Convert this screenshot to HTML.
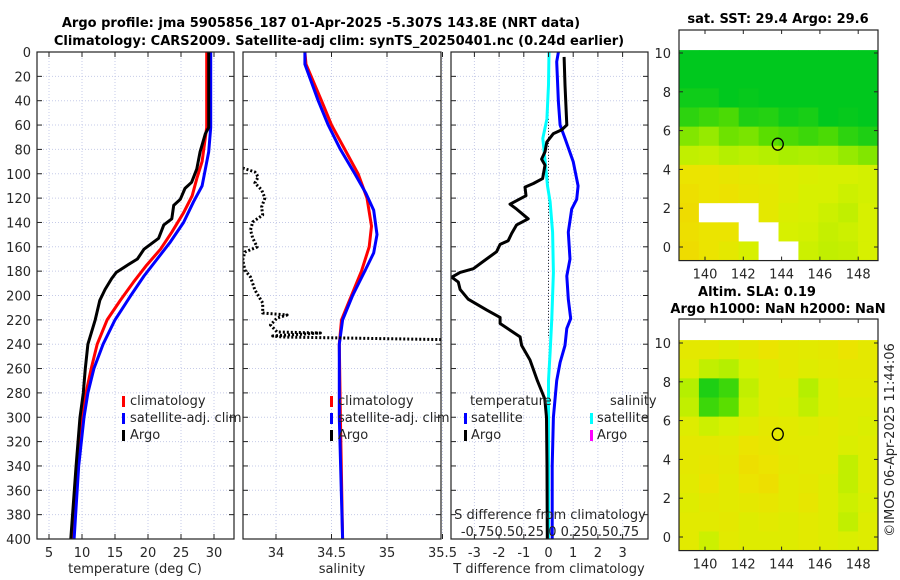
<!DOCTYPE html>
<html><head><meta charset="utf-8">
<style>
html,body{margin:0;padding:0;background:#fff;}
svg{display:block;font-family:"DejaVu Sans","Liberation Sans",sans-serif;}
.t{font-size:13px;fill:#262626;}
.b{font-size:13px;font-weight:bold;fill:#000;}
</style></head>
<body>
<svg id="chart" width="900" height="580" viewBox="0 0 900 580">
<text class="b" x="321" y="27" text-anchor="middle">Argo profile: jma 5905856_187 01-Apr-2025 -5.307S 143.8E (NRT data)</text>
<text class="b" x="339" y="45" text-anchor="middle">Climatology: CARS2009. Satellite-adj clim: synTS_20250401.nc (0.24d earlier)</text>
<text class="b" x="778" y="23" text-anchor="middle">sat. SST: 29.4 Argo: 29.6</text>
<text class="b" x="757" y="296" text-anchor="middle">Altim. SLA: 0.19</text>
<text class="b" x="778" y="313" text-anchor="middle">Argo h1000: NaN h2000: NaN</text>
<text class="t" x="0" y="0" transform="translate(894,440) rotate(-90)" text-anchor="middle">©IMOS 06-Apr-2025 11:44:06</text>
</svg>
<script>
// ---- depth axis ----
const depthTicks = [0,20,40,60,80,100,120,140,160,180,200,220,240,260,280,300,320,340,360,380,400];
// ---- temperature panel ----
const tempTicks = [5,10,15,20,25,30];
const climDepth = [0,62,90,104,118,132,148,162,175,189,204,220,240,260,280,300,340,400];
const climTemp  = [28.9,28.9,28.2,27.4,26.7,25.4,23.6,21.9,19.8,17.8,15.8,13.8,12.3,11.4,10.6,10.0,9.4,8.6];
const satDepth  = [0,62,82,96,110,123,140,156,170,184,200,220,240,260,280,300,340,400];
const satTemp   = [29.5,29.5,29.2,28.7,28.2,26.9,25.4,23.4,21.4,19.4,17.4,15.0,13.2,11.8,10.9,10.3,9.5,8.8];
const argoDepth = [0,62,67,82,96,107,112,121,126,137,142,153,162,170,175,181,186,195,204,220,240,260,280,300,340,400];
const argoTemp  = [29.2,29.2,28.7,27.9,27.4,26.6,25.6,24.9,23.9,23.6,22.4,21.6,19.4,18.4,16.9,15.2,14.5,13.5,12.7,12.0,10.9,10.5,10.2,9.7,9.1,8.3];
// ---- salinity panel ----
const salTicks = [34,34.5,35,35.5];
const salTickLabels = ["34","34.5","35","35.5"];
const climSalDepth = [0,10,40,60,80,100,120,143,160,180,200,220,240,300,400];
const climSal      = [34.26,34.27,34.41,34.50,34.62,34.74,34.82,34.86,34.84,34.77,34.68,34.59,34.57,34.58,34.60];
const satSalDepth  = [0,10,40,60,80,100,116,130,150,165,180,200,220,240,300,400];
const satSal       = [34.26,34.26,34.38,34.47,34.58,34.71,34.81,34.88,34.91,34.88,34.80,34.69,34.60,34.57,34.57,34.60];
const argoSalDepth = [95.3,98.6,102.7,107.6,113.3,119.9,127.3,133.9,139.6,146.2,152.8,160.2,164.3,170.8,179.1,184.8,195.5,206.2,214.4,216.0,218.5,224.2,230.0,230.8,233.3,234.1,236.5];
const argoSal      = [33.70,33.81,33.84,33.81,33.87,33.90,33.87,33.88,33.79,33.77,33.79,33.83,33.72,33.70,33.72,33.77,33.81,33.88,33.88,34.10,34.01,33.95,34.01,34.40,33.97,34.06,35.66];
// ---- difference panel ----
const diffTicks = [-3,-2,-1,0,1,2,3];
const argoDiffDepth = [4,27,60,64,67,74,82,88,93,104,108,111,118,125,129,137,142,149,155,158,164,168,173,178,181,185,189,195,203,212,218,223,234,241,253,270,285,300,340,400];
const argoDiffT     = [0.63,0.67,0.74,0.53,0.2,-0.07,-0.14,-0.28,-0.14,-0.24,-0.61,-0.95,-0.91,-1.56,-1.29,-0.82,-1.29,-1.49,-1.63,-1.96,-2.1,-2.37,-2.71,-3.04,-3.58,-3.92,-3.65,-3.58,-3.25,-2.5,-1.96,-1.96,-1.15,-1.09,-0.75,-0.45,-0.15,-0.08,-0.06,-0.05];
const satDiffDepth = [0,8,41,60,71,90,110,121,129,148,170,184,203,219,227,241,255,270,300,340,400];
const satDiffT     = [0.40,0.33,0.40,0.47,0.67,1.0,1.2,1.14,0.94,0.80,0.87,0.74,0.80,0.90,0.74,0.67,0.47,0.33,0.2,0.15,0.15];
const satDiffSDepth = [0,27,55,71,90,110,123,148,181,219,247,270,300,400];
const satDiffS      = [0.006,0.0,-0.02,-0.07,-0.04,-0.012,0.02,0.05,0.06,0.04,0.02,0.0,0.0,0.0];
// ---- maps (lon/lat grids, 10 cols x 11 rows, lat 10 -> 0) ----
const mapLonTicks = [140,142,144,146,148];
const mapLatTicks = [0,2,4,6,8,10];
const sstGrid = [
 [0,0,0,0,0,0,0,0,0,0],
 [0,0,0,0,0,0,0,0,0,0],
 [0.05,0.05,0,0.02,0,0,0,0,0,0],
 [0.15,0.2,0.25,0.1,0.12,0.05,0.08,0,0.02,0],
 [0.4,0.45,0.35,0.38,0.3,0.25,0.2,0.25,0.15,0.1],
 [0.6,0.62,0.55,0.58,0.55,0.5,0.52,0.5,0.45,0.4],
 [0.85,0.85,0.82,0.8,0.78,0.75,0.72,0.7,0.7,0.68],
 [0.88,0.85,0.86,0.82,0.8,0.75,0.7,0.7,0.65,0.68],
 [0.9,-1,-1,-1,0.8,0.72,0.7,0.65,0.6,0.7],
 [0.88,0.85,0.85,-1,-1,0.7,0.68,0.62,0.65,0.7],
 [0.9,0.85,0.8,0.7,-1,-1,0.65,0.6,0.62,0.7]];
const slaGrid = [
 [0.8,0.8,0.75,0.8,0.85,0.8,0.78,0.8,0.85,0.8],
 [0.75,0.6,0.55,0.7,0.75,0.8,0.75,0.78,0.8,0.8],
 [0.55,0.1,0.2,0.6,0.75,0.75,0.55,0.72,0.78,0.78],
 [0.6,0.2,0.3,0.65,0.75,0.72,0.6,0.72,0.75,0.75],
 [0.75,0.65,0.7,0.75,0.8,0.78,0.75,0.78,0.75,0.72],
 [0.8,0.8,0.78,0.85,0.82,0.78,0.78,0.78,0.72,0.75],
 [0.8,0.82,0.8,0.88,0.85,0.8,0.78,0.78,0.6,0.75],
 [0.78,0.85,0.78,0.85,0.88,0.78,0.8,0.75,0.6,0.75],
 [0.75,0.8,0.78,0.8,0.82,0.78,0.82,0.75,0.65,0.72],
 [0.78,0.78,0.8,0.75,0.78,0.75,0.78,0.75,0.6,0.75],
 [0.78,0.65,0.78,0.75,0.75,0.75,0.78,0.75,0.72,0.75]];

const NS = "http://www.w3.org/2000/svg";
const svg = document.getElementById('chart');
function mk(tag, attrs, parent){ const e=document.createElementNS(NS,tag); for(const k in attrs) e.setAttribute(k,attrs[k]); (parent||svg).appendChild(e); return e; }

const Y0=52, Y1=539;
const yD = d => Y0 + d*(Y1-Y0)/400;
const xT = t => 49 + (t-5)*6.6;
const xS = s => 276 + (s-34)*111;
const xDT = d => 548.5 + d*24.7;
const xDS = d => 548.5 + d*82;

let clipN=0;
function panel(name,x0,x1,y0,y1,xt,yt,xFn,yFn,xlab){
  const g=mk('g',{});
  
  
  const id='clip'+(clipN++);
  const cp=mk('clipPath',{id:id},g); mk('rect',{x:x0,y:y0,width:x1-x0,height:y1-y0},cp);
  mk('rect',{x:x0,y:y0,width:x1-x0,height:y1-y0,fill:'#fff'},g);
  return {g,id,x0,x1,y0,y1};
}
function grid(p,xt,xFn,yt,yFn){
  xt.forEach(v=>{const x=xFn(v); const l=mk('line',{x1:x,x2:x,y1:p.y0,y2:p.y1,stroke:'#c6cbe8','stroke-width':1,'stroke-dasharray':'1,2'},p.g);  });
  yt.forEach(v=>{const y=yFn(v); const l=mk('line',{x1:p.x0,x2:p.x1,y1:y,y2:y,stroke:'#c6cbe8','stroke-width':1,'stroke-dasharray':'1,2'},p.g);  });
}
function frame(p,xt,xFn,yt,yFn,tl){
  tl=tl||5;
  xt.forEach(v=>{const x=xFn(v); mk('line',{x1:x,x2:x,y1:p.y1,y2:p.y1-tl,stroke:'#222'},p.g); mk('line',{x1:x,x2:x,y1:p.y0,y2:p.y0+tl,stroke:'#222'},p.g);});
  yt.forEach(v=>{const y=yFn(v); mk('line',{x1:p.x0,x2:p.x0+tl,y1:y,y2:y,stroke:'#222'},p.g); mk('line',{x1:p.x1,x2:p.x1-tl,y1:y,y2:y,stroke:'#222'},p.g);});
  const r=mk('rect',{x:p.x0,y:p.y0,width:p.x1-p.x0,height:p.y1-p.y0,fill:'none',stroke:'#222','stroke-width':1.2},p.g);
   
}
function line(p,xs,ds,xFn,color,w,name,dash){
  const pts=xs.map((v,i)=>xFn(v).toFixed(1)+','+yD(ds[i]).toFixed(1)).join(' ');
  const a={points:pts,fill:'none',stroke:color,'stroke-width':w,'stroke-linejoin':'round','clip-path':'url(#'+p.id+')'};
  if(dash) a['stroke-dasharray']=dash;
  const e=mk('polyline',a,p.g);
  
  
}
function txt(p,x,y,s,anchor,name,extra){
  const e=mk('text',Object.assign({x:x,y:y,class:'t','text-anchor':anchor||'start'},extra||{}),p?p.g:svg);
  e.textContent=s;
  
  
  return e;
}
function legMark(p,x,y,color,name){
  const e=mk('rect',{x:x,y:y-9,width:3,height:11,fill:color},p.g);
  
  
}

// Panel 1: temperature
const p1=panel('temperature-panel',37,234,Y0,Y1);
grid(p1,tempTicks,xT,depthTicks,yD);
line(p1,climTemp,climDepth,xT,'#ff0000',3,'climatology-temp-line');
line(p1,satTemp,satDepth,xT,'#0000ff',3,'satellite-temp-line');
line(p1,argoTemp,argoDepth,xT,'#000',3,'argo-temp-line');
frame(p1,tempTicks,xT,depthTicks,yD);
depthTicks.forEach(d=>txt(p1,31,yD(d)+5,String(d),'end','depth-tick-label'));
tempTicks.forEach(t=>txt(p1,xT(t),557,String(t),'middle','temp-tick-label'));
txt(p1,135,573,'temperature (deg C)','middle','temp-axis-title');
legMark(p1,122,405,'#ff0000','legend-climatology-marker'); txt(p1,130,405,'climatology','start','legend-climatology');
legMark(p1,122,422,'#0000ff','legend-satellite-marker'); txt(p1,130,422,'satellite-adj. clim','start','legend-satellite');
legMark(p1,122,439,'#000','legend-argo-marker'); txt(p1,130,439,'Argo','start','legend-argo');

// Panel 2: salinity
const p2=panel('salinity-panel',243,441,Y0,Y1);
grid(p2,salTicks,xS,depthTicks,yD);
line(p2,climSal,climSalDepth,xS,'#ff0000',3,'climatology-sal-line');
line(p2,satSal,satSalDepth,xS,'#0000ff',3,'satellite-sal-line');
line(p2,argoSal,argoSalDepth,xS,'#000',3,'argo-sal-line','2,2');
frame(p2,salTicks,xS,depthTicks,yD);
salTicks.forEach((s,i)=>txt(p2,xS(s),557,salTickLabels[i],'middle','sal-tick-label'));
txt(p2,342,573,'salinity','middle','sal-axis-title');
legMark(p2,330,405,'#ff0000','legend-climatology-marker'); txt(p2,338,405,'climatology','start','legend-climatology');
legMark(p2,330,422,'#0000ff','legend-satellite-marker'); txt(p2,338,422,'satellite-adj. clim','start','legend-satellite');
legMark(p2,330,439,'#000','legend-argo-marker'); txt(p2,338,439,'Argo','start','legend-argo');

// Panel 3: differences
const p3=panel('difference-panel',451,648,Y0,Y1);
grid(p3,diffTicks,xDT,depthTicks,yD);
{const e=mk('line',{x1:xDT(0),x2:xDT(0),y1:yD(55),y2:yD(235),stroke:'#333','stroke-width':1,'stroke-dasharray':'1,2'},p3.g);  }
line(p3,satDiffT,satDiffDepth,xDT,'#0000ff',3,'satellite-tdiff-line');
line(p3,satDiffS,satDiffSDepth,xDS,'#00ffff',3,'satellite-sdiff-line');
line(p3,argoDiffT,argoDiffDepth,xDT,'#000',3,'argo-tdiff-line');
frame(p3,diffTicks,xDT,depthTicks,yD);
diffTicks.forEach(t=>txt(p3,xDT(t),557,String(t),'middle','tdiff-tick-label'));
txt(p3,549,573,'T difference from climatology','middle','tdiff-axis-title');
txt(p3,550,519,'S difference from climatology','middle','sdiff-axis-title');
txt(p3,550,536,'-0.750.50.25 0  0.250.50.75','middle','sdiff-tick-labels');
txt(p3,470,405,'temperature','start','legend-temperature-heading');
legMark(p3,464,422,'#0000ff','legend-t-satellite-marker'); txt(p3,471,422,'satellite','start','legend-t-satellite');
legMark(p3,464,439,'#000','legend-t-argo-marker'); txt(p3,471,439,'Argo','start','legend-t-argo');
txt(p3,610,405,'salinity','start','legend-salinity-heading');
legMark(p3,590,422,'#00ffff','legend-s-satellite-marker'); txt(p3,597,422,'satellite','start','legend-s-satellite');
legMark(p3,590,439,'#ff00ff','legend-s-argo-marker'); txt(p3,597,439,'Argo','start','legend-s-argo');

// Maps
function colorOf(v){
  if(v<0) return '#ffffff';
  const stops=[[0,[0,200,30]],[0.3,[90,222,0]],[0.5,[170,238,0]],[0.7,[215,240,0]],[0.85,[235,228,0]],[1,[245,205,0]]];
  for(let i=1;i<stops.length;i++){ if(v<=stops[i][0]){const a=stops[i-1],b=stops[i];const f=(v-a[0])/(b[0]-a[0]);const c=a[1].map((x,j)=>Math.round(x+(b[1][j]-x)*f));return 'rgb('+c.join(',')+')';}}
  return 'rgb(245,205,0)';
}
function map(name,top,gridVals,lat0y,lat10y){
  const x0=679,x1=878,y0=top,y1=lat0y+(lat10y-lat0y)*(-0.07);
  const lonX = l => 705 + (l-140)*19.15;
  const latY = l => lat0y + (lat10y-lat0y)*l/10;
  const p=panel(name,x0,x1,y0,y1);
  const dataTop=latY(10.15), dataBot=y1;
  const rows=gridVals.length, cols=gridVals[0].length;
  const cw=(x1-x0)/cols, ch=(dataBot-dataTop)/rows;
  gridVals.forEach((row,r)=>row.forEach((v,c)=>{
    const e=mk('rect',{x:(x0+c*cw).toFixed(2),y:(dataTop+r*ch).toFixed(2),width:(cw+0.5).toFixed(2),height:(ch+0.5).toFixed(2),fill:colorOf(v),'clip-path':'url(#'+p.id+')'},p.g);
    
    
  }));
  const c=mk('ellipse',{cx:lonX(143.8),cy:latY(5.3),rx:5.5,ry:6,fill:'none',stroke:'#000','stroke-width':1.3},p.g);
  
  
  frame(p,mapLonTicks,lonX,mapLatTicks,latY,4);
  mapLonTicks.forEach(l=>txt(p,lonX(l),y1+18,String(l),'middle','map-lon-tick-label'));
  mapLatTicks.forEach(l=>txt(p,671,latY(l)+5,String(l),'end','map-lat-tick-label'));
}
map('sst-map',30,sstGrid,247,53);
map('sla-map',319,slaGrid,537,343);
</script>
</body></html>
